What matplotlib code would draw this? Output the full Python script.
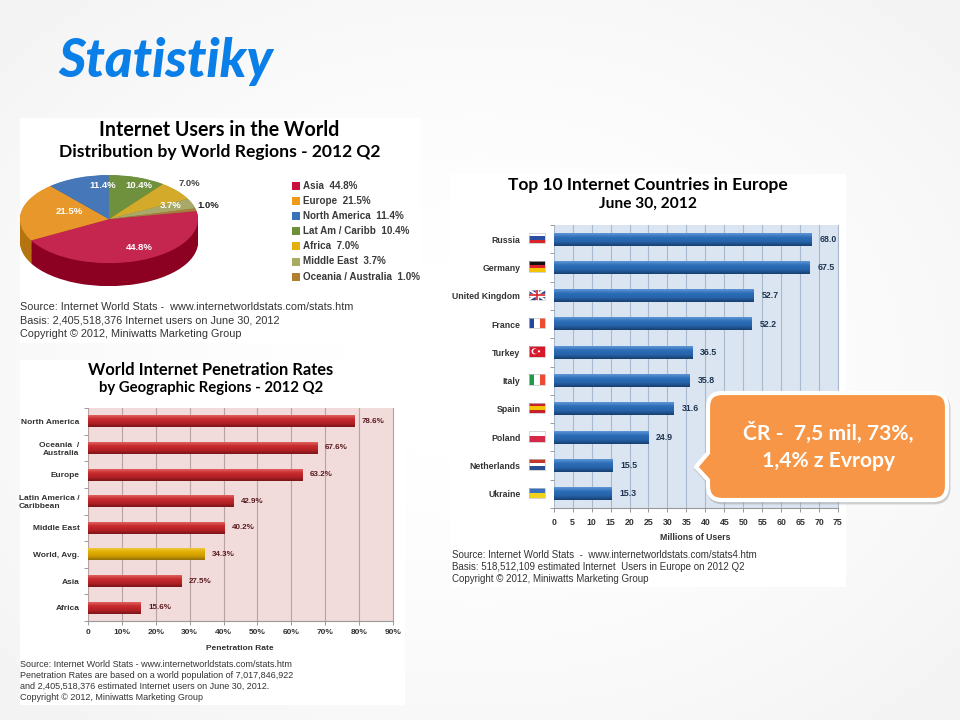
import numpy as np
import matplotlib
matplotlib.use('Agg')
import matplotlib.pyplot as plt
from matplotlib.colors import LinearSegmentedColormap
from matplotlib.patches import Rectangle, Circle, PathPatch
from matplotlib.path import Path
from matplotlib.ticker import FixedLocator, NullFormatter

# Pie data
regions = ['Asia', 'Europe', 'North America', 'Lat Am / Caribb', 'Africa', 'Middle East', 'Oceania / Australia']
region_share = [44.8, 21.5, 11.4, 10.4, 7.0, 3.7, 1.0]

# Penetration rates
pen_regions = ['North America', 'Oceania  /\nAustralia', 'Europe', 'Latin America /\nCaribbean',
               'Middle East', 'World, Avg.', 'Asia', 'Africa']
pen_rates = [78.6, 67.6, 63.2, 42.9, 40.2, 34.3, 27.5, 15.6]
pen_ticks = [0, 10, 20, 30, 40, 50, 60, 70, 80, 90]

# Top 10 countries
countries = ['Russia', 'Germany', 'United Kingdom', 'France', 'Turkey', 'Italy', 'Spain',
             'Poland', 'Netherlands', 'Ukraine']
country_users = [68.0, 67.5, 52.7, 52.2, 36.5, 35.8, 31.6, 24.9, 15.5, 15.3]
country_ticks = [0, 5, 10, 15, 20, 25, 30, 35, 40, 45, 50, 55, 60, 65, 70, 75]

TITLE_FONT = 'Lato'
BODY_FONT = 'Liberation Sans'
W, H = 960, 720

top_colors = ['#c4264f', '#e8982a', '#4677b8', '#6f913d', '#d4aa2a', '#a8a868', '#a87c3c']
side_colors = ['#8c0022', '#b5740f', '#2f5a90', '#506c28', '#a07f18', '#7d7d48', '#7c5a28']
legend_colors = ['#c8103e', '#f09a1a', '#3a72b8', '#6e9038', '#e4b010', '#a9ab62', '#b07f30']

fig = plt.figure(figsize=(9.6, 7.2), dpi=100)


def px_axes(x0, y0, x1, y1, zorder=1):
	"""Axes placed by pixel box of the 960x720 picture"""
	return fig.add_axes([x0 / W, 1 - y1 / H, (x1 - x0) / W, (y1 - y0) / H], zorder=zorder)


def overlay(zorder):
	ax = px_axes(0, 0, W, H, zorder)
	ax.set_xlim(0, W)
	ax.set_ylim(H, 0)
	ax.axis('off')
	return ax


def shade_bars(ax, bars, colors):
	"""Paint the vertical gradient over each bar"""
	grad = np.linspace(0, 1, 32).reshape(-1, 1)
	xlim, ylim = ax.get_xlim(), ax.get_ylim()
	for bar, col in zip(bars, colors):
		x, y, w, h = bar.get_x(), bar.get_y(), bar.get_width(), bar.get_height()
		cmap = LinearSegmentedColormap.from_list('bar', col)
		ax.imshow(grad, extent=(x, x + w, y + h, y), cmap=cmap, aspect='auto', zorder=3)
	ax.set_xlim(xlim)
	ax.set_ylim(ylim)


def bar_panel(box, names, values, ticks, tick_labels, face, grid, shades, label_col, fmt, pad, size, xpad, vsize, vpad):
	ax = px_axes(*box)
	pos = np.arange(len(names)) + 0.5
	bars = ax.barh(pos, values, height=0.45, color='#888888', zorder=2)
	ax.set_xlim(ticks[0], ticks[-1])
	ax.set_ylim(len(names), 0)
	shade_bars(ax, bars, shades)
	ax.set_facecolor(face)
	ax.set_xticks(ticks)
	ax.set_xticklabels(tick_labels, fontfamily=BODY_FONT, fontsize=size, fontweight='bold', color='#333333')
	ax.set_yticks(pos)
	ax.set_yticklabels(names, fontfamily=BODY_FONT, fontsize=size, fontweight='bold', color='#333333')
	ax.yaxis.set_minor_locator(FixedLocator(np.arange(len(names) + 1)))
	ax.yaxis.set_minor_formatter(NullFormatter())
	ax.tick_params(axis='y', which='major', length=0, pad=pad)
	ax.tick_params(axis='y', which='minor', length=3, width=0.7, color='#999999')
	ax.tick_params(axis='x', length=3, width=0.7, color='#999999', pad=xpad)
	ax.grid(axis='x', color=grid, linewidth=0.8, zorder=1)
	ax.set_axisbelow(True)
	for side in ['top', 'left']:
		ax.spines[side].set_visible(False)
	ax.spines['right'].set_color(grid)
	ax.spines['bottom'].set_color('#999999')
	ax.bar_label(bars, fmt=fmt, padding=vpad, fontfamily=BODY_FONT, fontsize=vsize,
				 fontweight='bold', color=label_col, zorder=4)
	return ax


# Slide background with panels
base = px_axes(0, 0, W, H, 0)
yy, xx = np.mgrid[0:1:90j, 0:1:120j]
glow = np.hypot(xx - 0.5, yy - 0.5) / 0.71
base.imshow(1 - 0.05 * glow ** 1.6, cmap='gray', vmin=0, vmax=1, extent=(0, W, H, 0), aspect='auto')
base.set_xlim(0, W)
base.set_ylim(H, 0)
base.axis('off')
for x0, y0, x1, y1 in [(20, 118, 420, 343), (20, 360, 405, 705), (451, 174, 846, 587)]:
	base.add_patch(Rectangle((x0, y0), x1 - x0, y1 - y0, color='white', lw=0))

base.text(58, 61, 'Statistiky', family=TITLE_FONT, fontsize=38, fontweight=900, style='italic',
		  color='#0b7fe8', ha='left', va='center')


def title(x, y, text, size):
	base.text(x, y, text, family=TITLE_FONT, fontsize=size, fontweight='bold', color='black',
			  ha='center', va='center')


def source(x, y, lines, step, size):
	for i, line in enumerate(lines):
		base.text(x, y + i * step, line, family=BODY_FONT, fontsize=size, color='#333333',
				  ha='left', va='center')


# Panel 1: pie
title(219.5, 130, 'Internet Users in the World', 14.1)
title(219.5, 152, 'Distribution by World Regions - 2012 Q2', 12.6)
source(20, 307, ['Source: Internet World Stats -  www.internetworldstats.com/stats.htm',
				 'Basis: 2,405,518,376 Internet users on June 30, 2012',
				 'Copyright © 2012, Miniwatts Marketing Group'], 13.3, 7.8)

pie_ax = px_axes(20, 175, 198, 287)
start = 90 - sum(region_share[3:]) * 3.6
for dy in np.linspace(0.52, 0.01, 26):
	pie_ax.pie(region_share, colors=side_colors, startangle=start, counterclock=False,
			   center=(0, -dy), radius=1)
pie_ax.pie(region_share, colors=top_colors, startangle=start, counterclock=False)
pie_ax.set_aspect('auto')
pie_ax.set_xlim(-1, 1)
pie_ax.set_ylim(-1.54, 1)

pie_label_pos = [(139, 248, 'white'), (69, 212, 'white'), (103, 185, 'white'), (139, 185, 'white'),
				 (189, 184, '#444444'), (171, 205, 'white'), (208, 206, '#222222')]

labels_ax = overlay(2)
for (x, y, col), share in zip(pie_label_pos, region_share):
	labels_ax.text(x, y, f'{share:.1f}%', family=BODY_FONT, fontsize=6.8, fontweight='bold', color=col,
				   ha='center', va='center')

for i, (name, share, col) in enumerate(zip(regions, region_share, legend_colors)):
	y = 186 + i * 15.1
	base.add_patch(Rectangle((291.5, y - 4), 8, 8, color=col, lw=0))
	base.text(303, y, f'{name}  {share:.1f}%', family=BODY_FONT, fontsize=7.1, fontweight='bold',
			  color='#3a3a3a', ha='left', va='center')

# Panel 2: penetration rates
title(211, 370, 'World Internet Penetration Rates', 11.9)
title(211, 388, 'by Geographic Regions - 2012 Q2', 10.7)
red = ['#e0605c', '#c62a2e', '#b32226', '#7c1518']
gold = ['#f0c93a', '#e0ad00', '#d09c00', '#93700a']
pen_shades = [gold if name.startswith('World') else red for name in pen_regions]
pen_ax = bar_panel((88, 408, 393, 621), pen_regions, pen_rates, pen_ticks,
				   ['0'] + [f'{t}%' for t in pen_ticks[1:]], '#f2dcdb', '#b9a2a2', pen_shades,
				   '#5a1a1e', '%.1f%%', 6, 6.0, 3, 5.8, 5.5)
for lab in pen_ax.get_yticklabels():
	lab.set_multialignment('left' if lab.get_text().startswith('Latin') else 'right')
base.text(240, 649, 'Penetration Rate', family=BODY_FONT, fontsize=6.0, fontweight='bold',
		  color='#333333', ha='center', va='center')
source(20, 664.5, ['Source: Internet World Stats - www.internetworldstats.com/stats.htm',
				   'Penetration Rates are based on a world population of 7,017,846,922',
				   'and 2,405,518,376 estimated Internet users on June 30, 2012.',
				   'Copyright © 2012, Miniwatts Marketing Group'], 11.1, 6.5)

# Panel 3: top countries
title(648, 185, 'Top 10 Internet Countries in Europe', 12.5)
title(648, 204, 'June 30, 2012', 11.2)
blue = ['#5d94d6', '#2c6db6', '#2663aa', '#173f70']
blue_ax = bar_panel((553.7, 225, 838, 508), countries, country_users, country_ticks,
					[str(t) for t in country_ticks], '#dbe5f1', '#a9bace', [blue] * len(countries),
					'#1d3350', '%.1f', 24, 6.3, 4.5, 6.3, 5.8)
base.text(695, 538, 'Millions of Users', family=BODY_FONT, fontsize=6.3, fontweight='bold',
		  color='#333333', ha='center', va='center')
source(452, 555.5, ['Source: Internet World Stats  -  www.internetworldstats.com/stats4.htm',
					'Basis: 518,512,109 estimated Internet  Users in Europe on 2012 Q2',
					'Copyright © 2012, Miniwatts Marketing Group'], 11.8, 7.0)

# Flags next to the country names
top = overlay(3)
fig.canvas.draw()
flag_h = [('#ffffff', '#2a4fa0', '#d8232a'), ('#111111', '#d8232a', '#f2c500'), None, None, None, None,
		  ('#c8202a', '#f5c400', '#c8202a'), ('#ffffff', '#d8284a'), ('#c0392b', '#ffffff', '#2a4f90'),
		  ('#3a70c0', '#f2d21a')]
flag_v = {3: ('#22479c', '#ffffff', '#ef4b30'), 5: ('#1f9a48', '#ffffff', '#ef4b30')}
for i in range(len(countries)):
	yc = H - blue_ax.transData.transform((0, i + 0.5))[1] - 1
	x0, w, h = 528.5, 16.5, 10.5
	y0 = yc - h / 2
	if flag_h[i]:
		n = len(flag_h[i])
		for j, col in enumerate(flag_h[i]):
			top.add_patch(Rectangle((x0, y0 + j * h / n), w, h / n, color=col, lw=0))
	elif i in flag_v:
		for j, col in enumerate(flag_v[i]):
			top.add_patch(Rectangle((x0 + j * w / 3, y0), w / 3, h, color=col, lw=0))
	elif countries[i] == 'United Kingdom':
		top.add_patch(Rectangle((x0, y0), w, h, color='#2a3f8a', lw=0))
		top.plot([x0, x0 + w], [y0, y0 + h], color='white', lw=1.5, solid_capstyle='butt')
		top.plot([x0, x0 + w], [y0 + h, y0], color='white', lw=1.5, solid_capstyle='butt')
		top.plot([x0, x0 + w], [yc, yc], color='white', lw=2.4, solid_capstyle='butt')
		top.plot([x0 + w / 2, x0 + w / 2], [y0, y0 + h], color='white', lw=2.4, solid_capstyle='butt')
		top.plot([x0, x0 + w], [yc, yc], color='#d8232a', lw=1.2, solid_capstyle='butt')
		top.plot([x0 + w / 2, x0 + w / 2], [y0, y0 + h], color='#d8232a', lw=1.2, solid_capstyle='butt')
	else:
		top.add_patch(Rectangle((x0, y0), w, h, color='#d8172a', lw=0))
		top.add_patch(Circle((x0 + 6, yc), 3, color='white', lw=0))
		top.add_patch(Circle((x0 + 7, yc), 2.4, color='#d8172a', lw=0))
		top.add_patch(Circle((x0 + 10.5, yc), 1.1, color='white', lw=0))
	# thin grey rim so pale stripes still read on the white panel
	top.add_patch(Rectangle((x0, y0), w, h, fc='none', ec='#c4c4c4', lw=0.5))

# Callout over the blue chart
x0, y0, x1, y1, r = 708, 393, 947, 500, 14
verts = [(x0 + r, y0), (x1 - r, y0), (x1, y0), (x1, y0 + r), (x1, y1 - r), (x1, y1), (x1 - r, y1),
		 (x0 + r, y1), (x0, y1), (x0, y1 - r), (x0, 480), (696, 467), (x0, 453), (x0, y0 + r),
		 (x0, y0), (x0 + r, y0), (x0 + r, y0)]
C3, L = Path.CURVE3, Path.LINETO
codes = [Path.MOVETO, L, C3, C3, L, C3, C3, L, C3, C3, L, L, L, L, C3, C3, Path.CLOSEPOLY]
top.add_patch(PathPatch(Path([(a + 1, b + 2) for a, b in verts], codes), fc='#9a9a9a', ec='#9a9a9a',
						lw=3.5, alpha=0.45))
top.add_patch(PathPatch(Path(verts, codes), fc='#f79646', ec='white', lw=3, joinstyle='round'))
top.text(828, 433, 'ČR -  7,5 mil, 73%,', family=TITLE_FONT, fontsize=15.2, fontweight='bold',
		 color='white', ha='center', va='center')
top.text(828, 461, '1,4% z Evropy', family=TITLE_FONT, fontsize=15.2, fontweight='bold',
		 color='white', ha='center', va='center')

fig.savefig('out.png', dpi=100)
